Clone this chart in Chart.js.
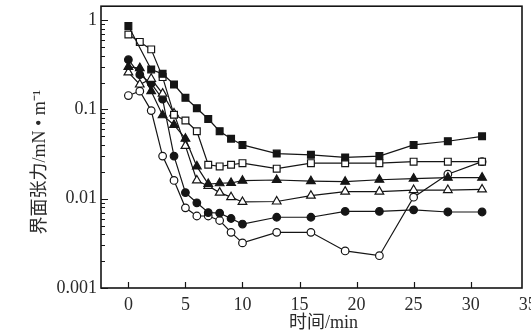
<!DOCTYPE html>
<html>
<head>
<meta charset="utf-8">
<script src="https://cdn.jsdelivr.net/npm/chart.js@4/dist/chart.umd.min.js"></script>
<style>
  html, body { margin: 0; padding: 0; background: #fff; }
  canvas { display: block; }
</style>
</head>
<body>
<canvas id="tensionChart" width="531" height="336"></canvas>
<script>
// Time points (min)
const times = [0, 1, 2, 3, 4, 5, 6, 7, 8, 9, 10, 13, 16, 19, 22, 25, 28, 31];

// Interfacial tension series (mN/m)
const filledSquare   = [0.86, null, 0.28, 0.25, 0.19, 0.135, 0.103, 0.078, 0.057, 0.047, 0.040, 0.032, 0.031, 0.029, 0.030, 0.040, 0.044, 0.050];
const openSquare     = [0.69, 0.57, 0.47, 0.23, 0.087, 0.075, 0.057, 0.024, 0.023, 0.024, 0.025, 0.0217, 0.025, 0.025, 0.025, 0.026, 0.026, 0.026];
const filledTriangle = [0.30, 0.29, 0.16, 0.086, 0.067, 0.047, 0.023, 0.0146, 0.0149, 0.0150, 0.0159, 0.0162, 0.0157, 0.0155, 0.0163, 0.0168, 0.0172, 0.0172];
const openTriangle   = [0.26, 0.19, 0.22, 0.15, 0.09, 0.039, 0.016, 0.0139, 0.0117, 0.0104, 0.0092, 0.0093, 0.0108, 0.012, 0.012, 0.0125, 0.0125, 0.0127];
const filledCircle   = [0.36, 0.245, 0.195, 0.13, 0.030, 0.0117, 0.009, 0.0070, 0.0069, 0.0060, 0.0052, 0.0062, 0.0062, 0.0072, 0.0072, 0.0075, 0.0071, 0.0071];
const openCircle     = [0.143, 0.16, 0.097, 0.030, 0.016, 0.0079, 0.0064, 0.0064, 0.0057, 0.0042, 0.0032, 0.0042, 0.0042, 0.0026, 0.0023, 0.0104, 0.0188, 0.026];

// Axis ticks
const xTickValues = [0, 5, 10, 15, 20, 25, 30, 35];
const xTickLabels = ['0', '5', '10', '15', '20', '25', '30', '35'];
const yMajorTicks = [0.001, 0.01, 0.1, 1];
const yTickLabels = ['0.001', '0.01', '0.1', '1'];

const xTitle = '时间/min';
const yTitle = '界面张力/mN • m⁻¹';

const INK = '#151515';
const TEXT = '#2a2a2a';
const tickFont = { family: "'Liberation Serif', 'Times New Roman', serif", size: 18 };
const titleFont = "18px 'Liberation Serif', 'Noto Sans CJK SC', serif";

function toPoints(values) {
    return times.map((t, i) => ({ x: t, y: values[i] }));
}

function series(values, style, filled, radius) {
    return {
        data: toPoints(values),
        borderColor: INK,
        borderWidth: 1.2,
        pointStyle: style,
        pointRadius: radius,
        pointBorderColor: INK,
        pointBorderWidth: 1.2,
        pointBackgroundColor: filled ? INK : '#fff',
        spanGaps: true,
        tension: 0
    };
}

// Minor log ticks: 2..9 in every decade
const yAllTicks = [];
yMajorTicks.forEach(m => {
    yAllTicks.push(m);
    if (m < 1) {
        for (let k = 2; k <= 9; k++) yAllTicks.push(+(m * k).toPrecision(3));
    }
});

// Frame, inward tick marks and axis titles
const frameAndTitles = {
    id: 'frameAndTitles',
    afterDatasetsDraw(chart) {
        const { ctx, chartArea: a, scales: { x, y } } = chart;
        ctx.save();
        ctx.strokeStyle = INK;
        ctx.lineWidth = 1.6;
        ctx.strokeRect(a.left, a.top, a.right - a.left, a.bottom - a.top);

        ctx.lineWidth = 1.2;
        ctx.beginPath();
        xTickValues.forEach(v => {
            if (v < x.min || v > x.max) return;
            const px = Math.round(x.getPixelForValue(v)) + 0.5;
            ctx.moveTo(px, a.bottom);
            ctx.lineTo(px, a.bottom - 6);
        });
        yAllTicks.forEach(v => {
            const py = Math.round(y.getPixelForValue(v)) + 0.5;
            const len = yMajorTicks.includes(v) ? 7 : 4;
            ctx.moveTo(a.left, py);
            ctx.lineTo(a.left + len, py);
        });
        ctx.stroke();

        ctx.fillStyle = TEXT;
        ctx.font = titleFont;
        ctx.textAlign = 'center';
        ctx.textBaseline = 'middle';
        ctx.fillText(xTitle, (a.left + a.right) / 2 + 12, 323);

        ctx.translate(40, (a.top + a.bottom) / 2 + 15);
        ctx.rotate(-Math.PI / 2);
        ctx.fillText(yTitle, 0, 0);
        ctx.restore();
    }
};

const ctx = document.getElementById('tensionChart').getContext('2d');
new Chart(ctx, {
    type: 'line',
    data: {
        datasets: [
            series(filledSquare, 'rect', true, 4.8),
            series(openSquare, 'rect', false, 4.8),
            series(filledTriangle, 'triangle', true, 5),
            series(openTriangle, 'triangle', false, 5),
            series(filledCircle, 'circle', true, 3.8),
            series(openCircle, 'circle', false, 3.8)
        ]
    },
    options: {
        responsive: false,
        animation: false,
        layout: { padding: { left: 0, top: 4, right: 9, bottom: 0 } },
        plugins: { legend: { display: false }, tooltip: { enabled: false } },
        scales: {
            x: {
                type: 'linear',
                min: -2.4,
                max: 34.5,
                grid: { display: false, drawTicks: false },
                border: { display: false },
                afterBuildTicks: s => { s.ticks = xTickValues.map(v => ({ value: v })); },
                afterFit: s => { s.height = 48; s.paddingLeft = 0; s.paddingRight = 0; },
                ticks: {
                    autoSkip: false,
                    maxRotation: 0,
                    padding: 6,
                    color: TEXT,
                    font: tickFont,
                    callback: v => xTickLabels[xTickValues.indexOf(v)]
                }
            },
            y: {
                type: 'logarithmic',
                min: 0.001,
                max: 1.431,
                grid: { display: false, drawTicks: false },
                border: { display: false },
                afterBuildTicks: s => { s.ticks = yAllTicks.map(v => ({ value: v })); },
                afterFit: s => { s.width = 101; s.paddingTop = 0; s.paddingBottom = 0; },
                ticks: {
                    autoSkip: false,
                    padding: 4,
                    color: TEXT,
                    font: tickFont,
                    callback: v => {
                        const i = yMajorTicks.indexOf(v);
                        return i >= 0 ? yTickLabels[i] : '';
                    }
                }
            }
        }
    },
    plugins: [frameAndTitles]
});
</script>
</body>
</html>
